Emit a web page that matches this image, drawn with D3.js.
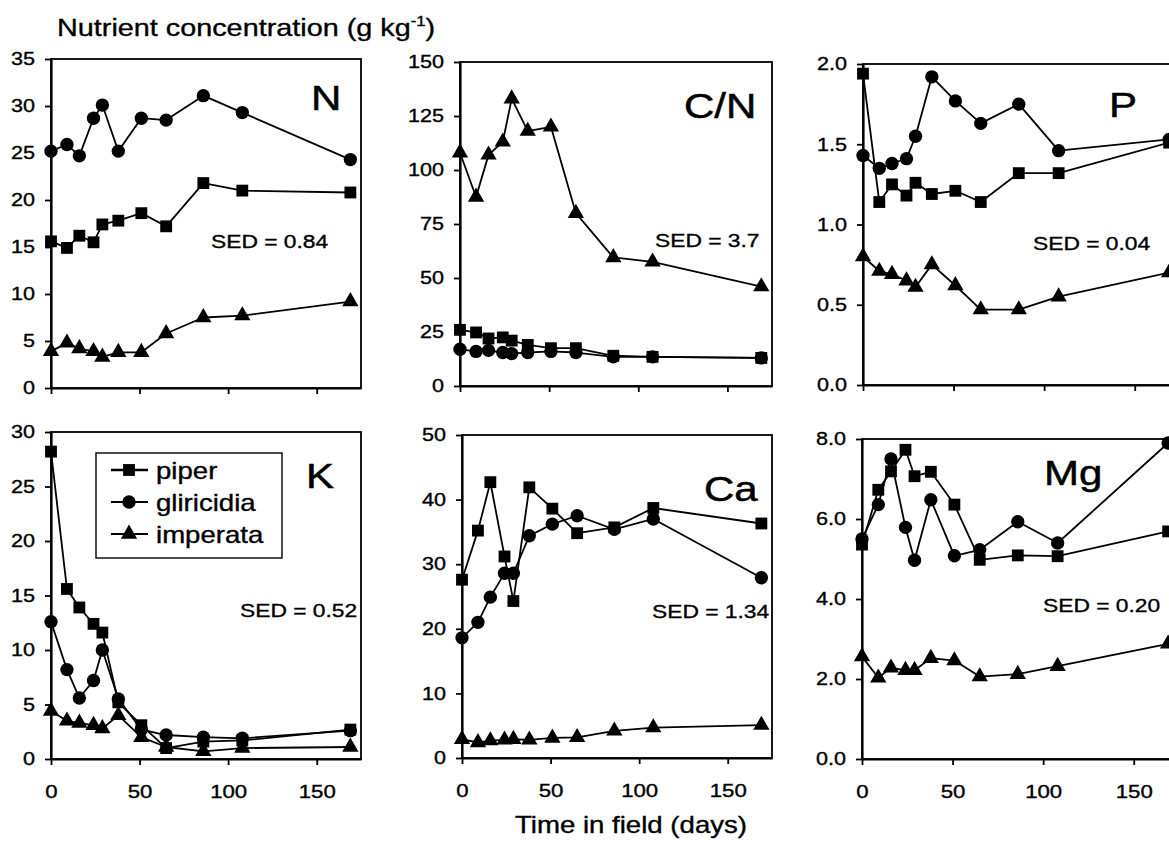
<!DOCTYPE html>
<html>
<head>
<meta charset="utf-8">
<script src="https://cdn.jsdelivr.net/npm/d3@7"></script>
<style>
  body { margin: 0; background: #fff; }
  svg { display: block; font-family: "Liberation Sans", Arial, sans-serif; }
  text { stroke: #000; stroke-width: 0.35px; }
</style>
</head>
<body>
<div id="chart"></div>
<script>
// sampling days
const days = [0, 9, 16, 24, 29, 38, 51, 65, 86, 108, 169];
const species = ["piper", "gliricidia", "imperata"];

// N (g/kg)
const nPiper      = [15.6, 14.9, 16.2, 15.5, 17.4, 17.8, 18.6, 17.2, 21.8, 21.0, 20.8];
const nGliricidia = [25.2, 25.9, 24.7, 28.7, 30.1, 25.2, 28.7, 28.5, 31.1, 29.3, 24.3];
const nImperata   = [3.9, 4.8, 4.2, 3.9, 3.3, 3.8, 3.8, 5.8, 7.5, 7.7, 9.2];
// C/N ratio
const cnPiper      = [26, 24.8, 22, 22.5, 21, 19, 17.5, 17.5, 14, 13.5, 13];
const cnGliricidia = [17, 16, 16.5, 15.5, 15, 15.5, 16, 15.5, 13.5, 13.5, 13];
const cnImperata   = [108, 87.5, 107, 113, 133, 118, 120, 80, 59.5, 57.5, 46];
// P
const pPiper      = [1.94, 1.14, 1.25, 1.18, 1.26, 1.19, 1.21, 1.14, 1.32, 1.32, 1.51];
const pGliricidia = [1.43, 1.35, 1.38, 1.41, 1.55, 1.92, 1.77, 1.63, 1.75, 1.46, 1.53];
const pImperata   = [0.80, 0.71, 0.69, 0.65, 0.61, 0.75, 0.62, 0.47, 0.47, 0.55, 0.70];
// K
const kPiper      = [28.2, 15.6, 13.9, 12.4, 11.6, 5.2, 3.1, 1.0, 1.6, 1.7, 2.7];
const kGliricidia = [12.6, 8.2, 5.6, 7.2, 10.0, 5.5, 2.7, 2.2, 2.0, 1.9, 2.6];
const kImperata   = [4.4, 3.5, 3.3, 3.1, 2.8, 4.0, 2.0, 1.1, 0.7, 1.0, 1.1];
// Ca
const caPiper      = [27.6, 35.2, 42.7, 31.2, 24.3, 41.9, 38.6, 34.8, 35.7, 38.7, 36.3];
const caGliricidia = [18.6, 21.0, 24.9, 28.6, 28.6, 34.4, 36.2, 37.5, 35.4, 37.0, 27.9];
const caImperata   = [2.9, 2.4, 2.7, 2.8, 2.9, 2.8, 3.1, 3.2, 4.2, 4.7, 5.1];
// Mg
const mgPiper      = [5.36, 6.73, 7.19, 7.73, 7.07, 7.18, 6.36, 4.98, 5.09, 5.07, 5.69];
const mgGliricidia = [5.50, 6.36, 7.50, 5.79, 4.97, 6.48, 5.08, 5.23, 5.93, 5.40, 7.90];
const mgImperata   = [2.56, 2.03, 2.28, 2.22, 2.22, 2.52, 2.46, 2.06, 2.12, 2.32, 2.88];

// axis ticks
const xTicks  = [0, 50, 100, 150];
const nTicks  = [0, 5, 10, 15, 20, 25, 30, 35];
const cnTicks = [0, 25, 50, 75, 100, 125, 150];
const pTicks  = [0, 0.5, 1.0, 1.5, 2.0];
const kTicks  = [0, 5, 10, 15, 20, 25, 30];
const caTicks = [0, 10, 20, 30, 40, 50];
const mgTicks = [0, 2, 4, 6, 8];

const panelNames = ["N", "C/N", "P", "K", "Ca", "Mg"];
const sedLabels = ["SED = 0.84", "SED = 3.7", "SED = 0.04", "SED = 0.52", "SED = 1.34", "SED = 0.20"];

const W = 1169, H = 843;
const SX = 1.2; // horizontal text stretch of the original scan

const svg = d3.select("#chart").append("svg")
  .attr("width", W)
  .attr("height", H);

svg.append("rect").attr("width", W).attr("height", H).attr("fill", "#fff");

// text with horizontal stretch
function label(g, x, y, str, size, anchor){
  return g.append("text")
    .attr("transform", `translate(${x},${y}) scale(${SX},1)`)
    .attr("text-anchor", anchor || "start")
    .attr("font-size", size)
    .attr("fill", "#000")
    .text(str);
}

const symbols = {
  piper: d3.symbol().type(d3.symbolSquare).size(140),
  gliricidia: d3.symbol().type(d3.symbolCircle).size(140),
  imperata: d3.symbol().type(d3.symbolTriangle).size(115)
};

const panels = [
  { name: panelNames[0], sed: sedLabels[0], ticks: nTicks, fmt: d3.format("d"),
    series: [nPiper, nGliricidia, nImperata],
    left: 51, right: 361, top: 59, bottom: 388, xLabels: false,
    nameAt: [311, 110], sedAt: [211, 248] },
  { name: panelNames[1], sed: sedLabels[1], ticks: cnTicks, fmt: d3.format("d"),
    series: [cnPiper, cnGliricidia, cnImperata],
    left: 460, right: 772, top: 62, bottom: 386, xLabels: false,
    nameAt: [684, 118], sedAt: [655, 247] },
  { name: panelNames[2], sed: sedLabels[2], ticks: pTicks, fmt: d3.format(".1f"),
    series: [pPiper, pGliricidia, pImperata],
    left: 863, right: 1180, top: 64, bottom: 385, xLabels: false,
    nameAt: [1109, 117], sedAt: [1033, 250] },
  { name: panelNames[3], sed: sedLabels[3], ticks: kTicks, fmt: d3.format("d"),
    series: [kPiper, kGliricidia, kImperata],
    left: 51, right: 361, top: 432, bottom: 759, xLabels: true,
    nameAt: [306, 488], sedAt: [240, 617], legend: true },
  { name: panelNames[4], sed: sedLabels[4], ticks: caTicks, fmt: d3.format("d"),
    series: [caPiper, caGliricidia, caImperata],
    left: 462, right: 772, top: 435, bottom: 758, xLabels: true,
    nameAt: [704, 501], sedAt: [652, 618] },
  { name: panelNames[5], sed: sedLabels[5], ticks: mgTicks, fmt: d3.format(".1f"),
    series: [mgPiper, mgGliricidia, mgImperata],
    left: 862, right: 1179, top: 439, bottom: 759, xLabels: true,
    nameAt: [1044, 485], sedAt: [1043, 612] }
];

panels.forEach(function(p){
  const x = d3.scaleLinear().domain([0, 175]).range([p.left, p.right]);
  const y = d3.scaleLinear().domain([0, d3.max(p.ticks)]).range([p.bottom, p.top]);
  const g = svg.append("g");

  // frame (top and right)
  g.append("rect")
    .attr("x", p.left).attr("y", p.top)
    .attr("width", p.right - p.left).attr("height", p.bottom - p.top)
    .attr("fill", "none").attr("stroke", "#000").attr("stroke-width", 1.8);

  // y axis
  const yAxis = g.append("g")
    .attr("transform", `translate(${p.left},0)`)
    .call(d3.axisLeft(y).tickValues(p.ticks).tickFormat(p.fmt).tickSize(6).tickSizeOuter(0));
  yAxis.selectAll("text")
    .attr("x", 0)
    .attr("transform", `translate(-16,0) scale(${SX},1)`)
    .attr("font-size", 18).attr("fill", "#000")
    .style("font-family", "'Liberation Sans', Arial, sans-serif");

  // x axis
  const xAxis = g.append("g")
    .attr("transform", `translate(0,${p.bottom})`)
    .call(d3.axisBottom(x).tickValues(xTicks).tickSize(6).tickSizeOuter(0)
      .tickFormat(p.xLabels ? d3.format("d") : ""));
  xAxis.selectAll("text")
    .attr("y", 0).attr("dy", null)
    .attr("transform", `translate(0,39) scale(${SX},1)`)
    .attr("font-size", 18.5).attr("fill", "#000")
    .style("font-family", "'Liberation Sans', Arial, sans-serif");

  g.selectAll(".domain").attr("stroke", "#000").attr("stroke-width", 2.2);
  g.selectAll(".tick line").attr("stroke", "#000").attr("stroke-width", 1.8);

  // data
  const line = d3.line()
    .x((d, i) => x(days[i]))
    .y(d => y(d));

  p.series.forEach(function(vals, si){
    g.append("path")
      .datum(vals)
      .attr("fill", "none")
      .attr("stroke", "#000")
      .attr("stroke-width", 1.8)
      .attr("stroke-linejoin", "round")
      .attr("d", line);
  });
  p.series.forEach(function(vals, si){
    g.selectAll(null)
      .data(vals)
      .enter().append("path")
        .attr("d", symbols[species[si]])
        .attr("transform", (d, i) => `translate(${x(days[i])},${y(d)})`)
        .attr("fill", "#000");
  });

  label(g, p.nameAt[0], p.nameAt[1], p.name, 35).style("stroke-width", "0.5px");
  label(g, p.sedAt[0], p.sedAt[1], p.sed, 19);

  if (p.legend){
    const lg = g.append("g");
    lg.append("rect")
      .attr("x", 96).attr("y", 453).attr("width", 186).attr("height", 105)
      .attr("fill", "#fff").attr("stroke", "#000").attr("stroke-width", 1.4);
    species.forEach(function(s, i){
      const ly = 470 + i * 32;
      lg.append("line")
        .attr("x1", 111).attr("x2", 148).attr("y1", ly).attr("y2", ly)
        .attr("stroke", "#000").attr("stroke-width", i === 0 ? 2.6 : 1.8);
      lg.append("path")
        .attr("d", symbols[s])
        .attr("transform", `translate(129,${ly})`)
        .attr("fill", "#000");
      label(lg, 156, ly + 9, s, 23);
    });
  }
});

// y title with superscript
const title = svg.append("text")
  .attr("transform", `translate(57,36) scale(${SX},1)`)
  .attr("font-size", 24)
  .attr("fill", "#000");
title.append("tspan").text("Nutrient concentration (g kg");
title.append("tspan").attr("font-size", 14).attr("dy", -10).text("-1");
title.append("tspan").attr("dy", 10).text(")");

// x title
label(svg, 631, 833, "Time in field (days)", 23, "middle");
</script>
</body>
</html>
